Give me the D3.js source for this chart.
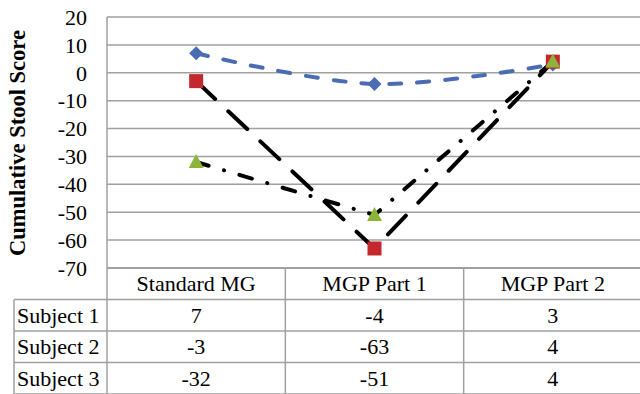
<!DOCTYPE html>
<html>
<head>
<meta charset="utf-8">
<script src="https://cdn.jsdelivr.net/npm/d3@7"></script>
<style>
  body { margin: 0; background: #fff; }
</style>
</head>
<body>
<div id="root"></div>
<script>
// categories and series
var categories = ['Standard MG', 'MGP Part 1', 'MGP Part 2']
var seriesNames = ['Subject 1', 'Subject 2', 'Subject 3']
var subject1 = [7, -4, 3]
var subject2 = [-3, -63, 4]
var subject3 = [-32, -51, 4]
var yTicks = [20, 10, 0, -10, -20, -30, -40, -50, -60, -70]

var serif = 'Liberation Serif, Times New Roman, Times, serif'
var width = 640, height = 394
var svg = d3.select('#root').append('svg')
    .attr('width', width)
    .attr('height', height)
    .attr('font-family', serif)

// plot area
var plotLeft = 107, plotRight = 642, plotTop = 17, plotBottom = 268
var rowH = 31.5
var tableLeft = 14
var fontSize = 22

var X = d3.scaleBand().domain(categories).range([plotLeft, plotRight])
var Y = d3.scaleLinear().domain([-70, 20]).range([plotBottom, plotTop])
function cx(c) { return X(c) + X.bandwidth() / 2 }

var gridColor = '#a0a0a0'

// gridlines
var grid = svg.append('g').attr('class', 'grid')
grid.selectAll('line')
    .data(yTicks)
    .enter()
    .append('line')
    .attr('x1', plotLeft).attr('x2', plotRight)
    .attr('y1', function (d) { return Y(d) })
    .attr('y2', function (d) { return Y(d) })
    .attr('stroke', gridColor)
    .attr('stroke-width', function (d) { return d === -70 ? 2 : 1.5 })

// y axis (labels only)
var yAxis = svg.append('g')
    .attr('transform', 'translate(' + (plotLeft - 20) + ',0)')
    .call(d3.axisLeft(Y).tickValues(yTicks).tickSize(0).tickPadding(0)
        .tickFormat(function (d) { return String(d) }))
    .attr('font-family', serif)
    .attr('font-size', fontSize)
yAxis.select('.domain').remove()
yAxis.selectAll('text')
    .attr('fill', '#000')
    .attr('dy', '0.33em')

// left border of the plot
svg.append('line')
    .attr('x1', plotLeft).attr('x2', plotLeft)
    .attr('y1', plotTop).attr('y2', plotBottom + rowH * 4)
    .attr('stroke', gridColor).attr('stroke-width', 1.5)

// y title
svg.append('text')
    .attr('transform', 'translate(25,' + 143 + ') rotate(-90)')
    .attr('text-anchor', 'middle')
    .attr('font-size', 22.5)
    .attr('font-weight', 'bold')
    .text('Cumulative Stool Score')

// data table
var table = svg.append('g').attr('class', 'table').attr('font-size', fontSize)
var rows = [subject1, subject2, subject3]
d3.range(1, 5).forEach(function (i) {
    table.append('line')
        .attr('x1', tableLeft).attr('x2', plotRight)
        .attr('y1', plotBottom + rowH * i).attr('y2', plotBottom + rowH * i)
        .attr('stroke', gridColor).attr('stroke-width', 1.5)
})
table.append('line')
    .attr('x1', tableLeft).attr('x2', tableLeft)
    .attr('y1', plotBottom + rowH).attr('y2', plotBottom + rowH * 4)
    .attr('stroke', gridColor).attr('stroke-width', 1.5)
table.selectAll('line.col')
    .data(categories.slice(1))
    .enter()
    .append('line')
    .attr('class', 'col')
    .attr('x1', function (d) { return X(d) })
    .attr('x2', function (d) { return X(d) })
    .attr('y1', plotBottom).attr('y2', plotBottom + rowH * 4)
    .attr('stroke', gridColor).attr('stroke-width', 1.5)

table.selectAll('text.cat')
    .data(categories)
    .enter()
    .append('text')
    .attr('class', 'cat')
    .attr('x', function (d) { return cx(d) })
    .attr('y', plotBottom + rowH / 2)
    .attr('dy', '0.35em')
    .attr('text-anchor', 'middle')
    .text(function (d) { return d })

seriesNames.forEach(function (name, i) {
    var yy = plotBottom + rowH * (i + 1) + rowH / 2
    table.append('text')
        .attr('x', tableLeft + 3)
        .attr('y', yy)
        .attr('dy', '0.35em')
        .text(name)
    table.selectAll('text.v' + i)
        .data(rows[i])
        .enter()
        .append('text')
        .attr('class', 'v' + i)
        .attr('x', function (d, j) { return cx(categories[j]) })
        .attr('y', yy)
        .attr('dy', '0.35em')
        .attr('text-anchor', 'middle')
        .text(function (d) { return String(d) })
})

// lines
var lines = svg.append('g').attr('class', 'lines')
var smooth = d3.line()
    .x(function (d, i) { return cx(categories[i]) })
    .y(function (d) { return Y(d) })
    .curve(d3.curveCatmullRom.alpha(0.5))
var straight = d3.line()
    .x(function (d, i) { return cx(categories[i]) })
    .y(function (d) { return Y(d) })

lines.append('path')
    .attr('d', straight(subject3))
    .attr('fill', 'none')
    .attr('stroke', '#000')
    .attr('stroke-width', 4)
    .attr('stroke-linecap', 'round')
    .attr('stroke-dasharray', '13,16,0.1,16')
lines.append('path')
    .attr('d', straight(subject2))
    .attr('fill', 'none')
    .attr('stroke', '#000')
    .attr('stroke-width', 4)
    .attr('stroke-linecap', 'round')
    .attr('stroke-dasharray', '26,18')
lines.append('path')
    .attr('d', smooth(subject1))
    .attr('fill', 'none')
    .attr('stroke', '#4a6cb3')
    .attr('stroke-width', 4)
    .attr('stroke-linecap', 'round')
    .attr('stroke-dasharray', '12,16')

// markers
var marks = svg.append('g').attr('class', 'marks')
marks.selectAll('path.s1')
    .data(subject1)
    .enter()
    .append('path')
    .attr('class', 's1')
    .attr('transform', function (d, i) { return 'translate(' + cx(categories[i]) + ',' + Y(d) + ')' })
    .attr('d', 'M0,-7L7,0L0,7L-7,0Z')
    .attr('fill', '#4a6cb3')
marks.selectAll('rect.s2')
    .data(subject2)
    .enter()
    .append('rect')
    .attr('class', 's2')
    .attr('x', function (d, i) { return cx(categories[i]) - 7 })
    .attr('y', function (d) { return Y(d) - 7 })
    .attr('width', 14).attr('height', 14)
    .attr('fill', '#c3282e')
marks.selectAll('path.s3')
    .data(subject3)
    .enter()
    .append('path')
    .attr('class', 's3')
    .attr('transform', function (d, i) { return 'translate(' + cx(categories[i]) + ',' + Y(d) + ')' })
    .attr('d', 'M0,-8L7.5,6L-7.5,6Z')
    .attr('fill', '#8cb43a')
</script>
</body>
</html>
